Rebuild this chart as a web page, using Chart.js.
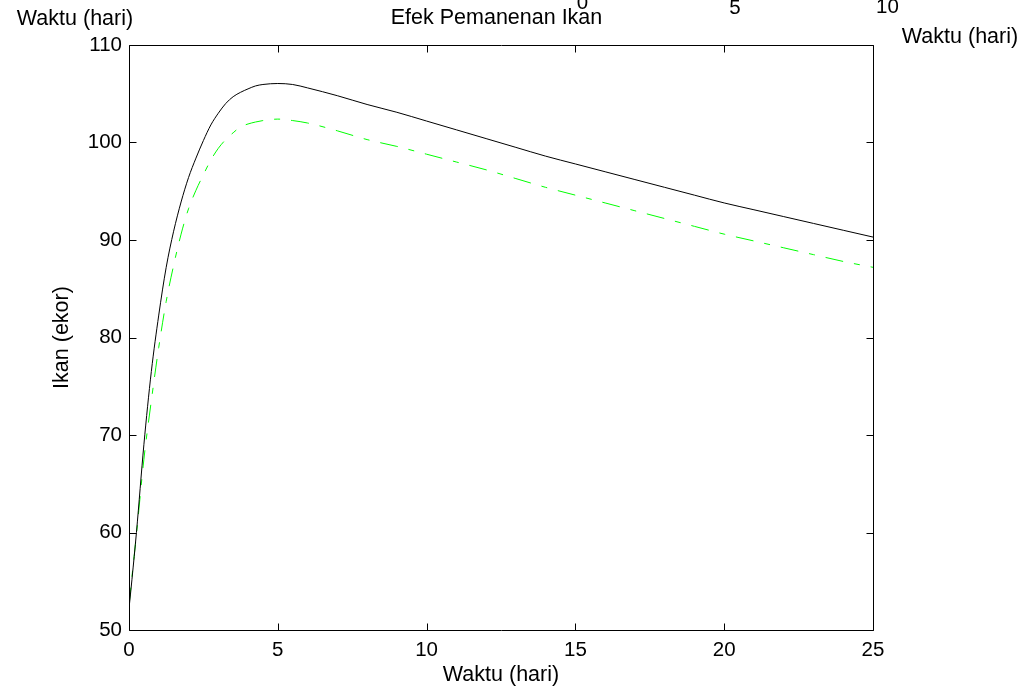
<!DOCTYPE html>
<html>
<head>
<meta charset="utf-8">
<title>Efek Pemanenan Ikan</title>
<script src="https://cdn.jsdelivr.net/npm/chart.js@4.4.1/dist/chart.umd.min.js"></script>
<style>
  html, body { margin: 0; padding: 0; background: #fff; }
  #wrap { width: 1030px; height: 694px; }
</style>
</head>
<body>
<div id="wrap"><canvas id="c" width="1030" height="694"></canvas></div>
<script>
// Waktu (hari)
const waktu = [0, 0.1, 0.25, 0.5, 0.75, 1, 1.25, 1.5, 1.75, 2, 2.25, 2.5, 2.75, 3, 3.25, 3.5, 3.75, 4, 4.25, 4.5, 5, 5.5, 6,
  7, 8, 9, 10, 11, 12, 13, 14, 15, 16, 17, 18, 19, 20, 21, 22, 23, 24, 25];

// Ikan (ekor) tanpa pemanenan
const ikanTanpaPanen = [52.2, 55.2, 60.0, 69.0, 76.5, 82.3, 87.2, 90.9, 93.9, 96.4, 98.4, 100.2, 101.8, 103.0, 104.0, 104.7, 105.15, 105.5, 105.8, 105.95, 106.05, 105.95, 105.6,
  104.8, 103.9, 103.1, 102.2, 101.3, 100.4, 99.5, 98.6, 97.8, 97.0, 96.2, 95.4, 94.6, 93.8, 93.1, 92.4, 91.7, 91.0, 90.3];

// Ikan (ekor) dengan pemanenan
const ikanDenganPanen = [52.5, 55.5, 59.8, 67.5, 73.5, 79.0, 83.7, 87.4, 90.6, 93.2, 95.1, 96.7, 98.2, 99.4, 100.3, 101.0, 101.6, 101.9, 102.1, 102.25, 102.4, 102.25, 102.0,
  101.2, 100.3, 99.6, 98.8, 98.0, 97.2, 96.3, 95.4, 94.6, 93.8, 93.0, 92.2, 91.4, 90.6, 89.9, 89.2, 88.5, 87.8, 87.2];

const xTicks = [0, 5, 10, 15, 20, 25];
const yTicks = [50, 60, 70, 80, 90, 100, 110];
const topTickLabels = ['0', '5', '10'];

const FONT = '"Liberation Sans", Arial, Helvetica, sans-serif';

const pts = (xs, ys) => xs.map((t, i) => ({ x: t, y: ys[i] }));

// Axes box with inward tick marks on all four sides
const framePlugin = {
  id: 'frame',
  afterDatasetsDraw(chart) {
    const { ctx, chartArea: a, scales: { x, y } } = chart;
    const len = 7;
    ctx.save();
    ctx.strokeStyle = '#000';
    ctx.lineWidth = 1;
    const L = Math.round(a.left) + 0.5, R = Math.round(a.right) + 0.5;
    const T = Math.round(a.top) + 0.5, B = Math.round(a.bottom) + 0.5;
    ctx.beginPath();
    ctx.rect(L, T, R - L, B - T);
    x.ticks.forEach(t => {
      const px = Math.round(x.getPixelForValue(t.value)) + 0.5;
      ctx.moveTo(px, B); ctx.lineTo(px, B - len);
      ctx.moveTo(px, T); ctx.lineTo(px, T + len);
    });
    y.ticks.forEach(t => {
      const py = Math.round(y.getPixelForValue(t.value)) + 0.5;
      ctx.moveTo(L, py); ctx.lineTo(L + len, py);
      ctx.moveTo(R, py); ctx.lineTo(R - len, py);
    });
    ctx.stroke();
    ctx.restore();
  }
};

// Title and the stray labels along the top of the figure
const topTextPlugin = {
  id: 'topText',
  afterDraw(chart) {
    const { ctx } = chart;
    ctx.save();
    ctx.fillStyle = '#000';
    ctx.textBaseline = 'middle';
    ctx.textAlign = 'center';
    ctx.font = '21.5px ' + FONT;
    ctx.fillText('Efek Pemanenan Ikan', 496.5, 18);
    ctx.fillText('Waktu (hari)', 75, 19);
    ctx.fillText('Waktu (hari)', 960, 37);
    ctx.font = '20.5px ' + FONT;
    const tx = [582.5, 735, 887.5];
    const ty = [3, 8, 7];
    topTickLabels.forEach((s, i) => ctx.fillText(s, tx[i], ty[i]));
    ctx.restore();
  }
};

new Chart(document.getElementById('c'), {
  type: 'line',
  data: {
    datasets: [
      {
        label: 'Tanpa pemanenan',
        data: pts(waktu, ikanTanpaPanen),
        borderColor: '#000000',
        borderWidth: 1,
        pointRadius: 0,
        cubicInterpolationMode: 'monotone',
        fill: false
      },
      {
        label: 'Dengan pemanenan',
        data: pts(waktu, ikanDenganPanen),
        borderColor: '#00ff00',
        borderWidth: 1,
        borderDash: [18, 11, 6, 11],
        pointRadius: 0,
        cubicInterpolationMode: 'monotone',
        fill: false
      }
    ]
  },
  options: {
    responsive: false,
    animation: false,
    devicePixelRatio: 1,
    layout: { padding: { top: 45, right: 157, left: 0, bottom: 0 } },
    plugins: {
      legend: { display: false },
      title: { display: false },
      tooltip: { enabled: false }
    },
    scales: {
      x: {
        type: 'linear',
        min: 0,
        max: 25,
        afterBuildTicks: s => { s.ticks = xTicks.map(v => ({ value: v })); },
        afterFit: s => { s.height = 64; },
        grid: { display: false, drawTicks: false },
        border: { display: false },
        ticks: { color: '#000', font: { family: FONT, size: 20.5 }, padding: 8, maxRotation: 0 },
        title: {
          display: true,
          text: 'Waktu (hari)',
          color: '#000',
          font: { family: FONT, size: 21.5 },
          padding: { top: 0, bottom: 6 }
        }
      },
      y: {
        min: 50,
        max: 110,
        afterBuildTicks: s => { s.ticks = yTicks.map(v => ({ value: v })); },
        afterFit: s => { s.width = 129; },
        grid: { display: false, drawTicks: false },
        border: { display: false },
        ticks: { color: '#000', font: { family: FONT, size: 20.5 }, padding: 7 },
        title: {
          display: true,
          text: 'Ikan (ekor)',
          color: '#000',
          font: { family: FONT, size: 21.5 },
          padding: { top: 49, bottom: 0 }
        }
      }
    }
  },
  plugins: [framePlugin, topTextPlugin]
});
</script>
</body>
</html>
